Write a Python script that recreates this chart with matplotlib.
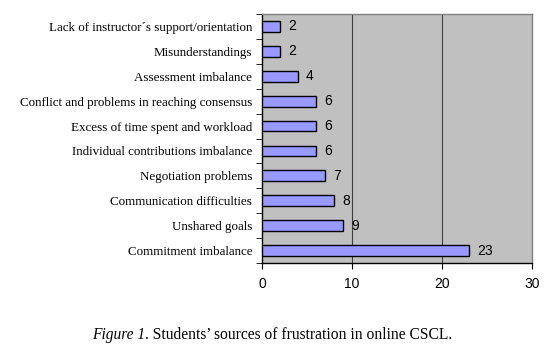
import matplotlib
matplotlib.use("Agg")
import matplotlib.pyplot as plt
import numpy as np

categories = [
    "Lack of instructor\u00b4s support/orientation",
    "Misunderstandings",
    "Assessment imbalance",
    "Conflict and problems in reaching consensus",
    "Excess of time spent and workload",
    "Individual contributions imbalance",
    "Negotiation problems",
    "Communication difficulties",
    "Unshared goals",
    "Commitment imbalance",
]
values = [2, 2, 4, 6, 6, 6, 7, 8, 9, 23]
xticks = [0, 10, 20, 30]
caption_italic = "Figure 1"
caption_rest = ". Students\u2019 sources of frustration in online CSCL."

W, H = 560, 349
fig = plt.figure(figsize=(W / 100, H / 100), dpi=100)
ax = fig.add_axes([262 / W, 1 - 263 / H, (532 - 262) / W, (263 - 14) / H])
ax.set_facecolor("#C0C0C0")

n = len(categories)
ypos = np.arange(n)
ax.barh(ypos, values, height=0.43, color="#9999FF", edgecolor="black", linewidth=1.0, zorder=3)
ax.set_xlim(0, 30)
ax.set_ylim(n - 0.5, -0.5)

for x in xticks[1:-1]:
    ax.axvline(x, color="#404040", linewidth=0.8, zorder=1)

for y, v in zip(ypos, values):
    ax.text(v + 0.9, y, str(v), va="center", ha="left", fontsize=10,
            family="Liberation Sans", zorder=4)

ax.set_yticks(ypos)
ax.set_yticklabels(categories, family="Liberation Serif", fontsize=9.35)
ax.tick_params(axis="y", length=0, pad=7)
ax.set_yticks(np.arange(n + 1) - 0.5, minor=True)
ax.tick_params(axis="y", which="minor", length=4, direction="out", color="black")

ax.set_xticks(xticks)
ax.set_xticklabels([str(t) for t in xticks], family="Liberation Sans", fontsize=10)
ax.tick_params(axis="x", length=4, direction="out", color="black", pad=6)

for s in ["top", "right"]:
    ax.spines[s].set_color("#808080")
    ax.spines[s].set_linewidth(1.0)
for s in ["left", "bottom"]:
    ax.spines[s].set_color("black")
    ax.spines[s].set_linewidth(1.0)

# caption
t1 = fig.text(92 / W, 1 - 339 / H, caption_italic, style="italic",
              family="Liberation Serif", fontsize=11.2, va="baseline", ha="left")
fig.canvas.draw()
bb = t1.get_window_extent()
fig.text(bb.x1 / W, 1 - 339 / H, caption_rest, family="Liberation Serif",
         fontsize=11.2, va="baseline", ha="left")

fig.savefig("out.png", dpi=100, facecolor="white")
